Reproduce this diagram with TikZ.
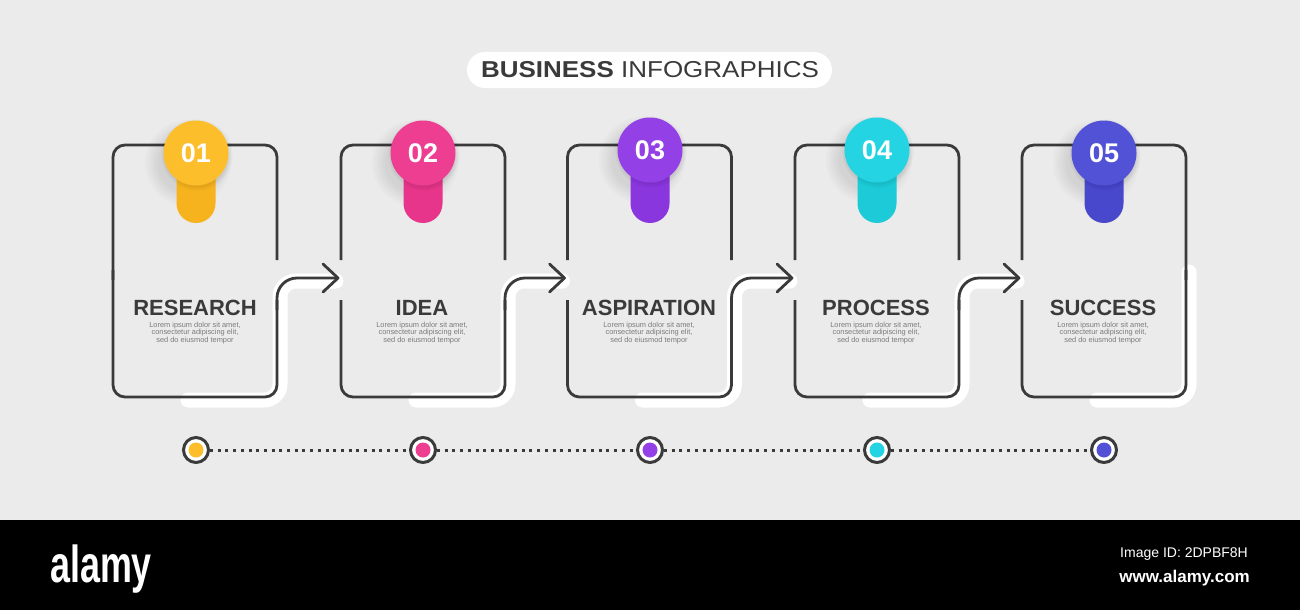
\documentclass[tikz,border=0pt]{standalone}
\usepackage{fontspec}
\setmainfont{Liberation Sans}
\definecolor{bg}{HTML}{EBEBEB}
\definecolor{ink}{HTML}{3A3A3A}
\definecolor{lorem}{HTML}{7A7A7A}
\definecolor{cA}{HTML}{FCBE2A}\definecolor{sA}{HTML}{F6B31E}
\definecolor{cB}{HTML}{EE3E92}\definecolor{sB}{HTML}{E6358A}
\definecolor{cC}{HTML}{9340E6}\definecolor{sC}{HTML}{8936DE}
\definecolor{cD}{HTML}{24D4E2}\definecolor{sD}{HTML}{1CCAD8}
\definecolor{cE}{HTML}{5252D6}\definecolor{sE}{HTML}{4848CC}
\begin{document}
\begin{tikzpicture}[x=1pt,y=-1pt,
  outline/.style={draw=ink, line width=2.8pt, rounded corners=12pt},
  bendline/.style={draw=ink, line width=2.8pt, rounded corners=20pt},
  chevron/.style={draw=ink, line width=2.8pt, line cap=round, line join=round},
  band/.style={draw=white, line width=15pt, line cap=round, line join=round, rounded corners=16pt},
  heading/.style={text=ink, font=\bfseries\fontsize{22}{24}\selectfont},
  loremtext/.style={text=lorem, align=center, font=\fontsize{7.4}{7.2}\selectfont},
  num/.style={text=white, font=\bfseries\fontsize{27}{28}\selectfont},
  ring/.style={circle, draw=ink, line width=3pt, fill=white, minimum size=25pt, inner sep=0pt},
  dots/.style={draw=ink, line width=3pt, dash pattern=on 3pt off 4.7pt},
]
\useasboundingbox (0,0) rectangle (1300,610);
\fill[bg] (0,0) rectangle (1300,520);
\fill[black] (0,520) rectangle (1300,610);

% title
\node[fill=white, rounded corners=18pt, minimum width=365pt, minimum height=36pt, inner sep=0pt] (titlepill) at (649.5,70) {};
\node[text=ink, font=\fontsize{23}{24}\selectfont, xscale=1.13] (title) at (650,70) {\textbf{BUSINESS} INFOGRAPHICS};

% white highlight bands
\foreach \L/\N [count=\i] in {113/341, 341/567.5, 567.5/795, 795/1022}{
  \pgfmathsetmacro\R{\L+164}
  \pgfmathsetmacro\T{\N-5}
  \draw[band] (\L+75,400) -- (\R+3,400) -- (\R+3,281) -- (\T,281);
}
\draw[band] (1189,272) -- (1189,400) -- (1097,400);

% box outlines
\foreach \L/\lt/\lb/\rt/\rb in {113/280/270/260/300, 341/260/300/260/300, 567.5/260/300/260/300, 795/260/300/260/300, 1022/260/300/280/270}{
  \pgfmathsetmacro\R{\L+164}
  \draw[outline] (\L,\lt) -- (\L,145) -- (\R,145) -- (\R,\rt);
  \draw[outline] (\L,\lb) -- (\L,397) -- (\R,397) -- (\R,\rb);
}

% connectors
\foreach \L/\N [count=\i] in {113/341, 341/567.5, 567.5/795, 795/1022}{
  \pgfmathsetmacro\R{\L+164}
  \pgfmathsetmacro\T{\N-3}
  \coordinate (s\i) at (\R,310);
  \coordinate (k\i) at (\R,278);
  \coordinate (tip\i) at (\T,278);
  \draw[bendline] (s\i) -- (k\i) -- (tip\i);
  \draw[chevron] (tip\i) ++(-15,-14) -- (tip\i) -- ++(-15,14);
}

% pins
\foreach \cx/\cy/\cc/\sc/\n in {196/153/cA/sA/01, 423/153/cB/sB/02, 650/150/cC/sC/03, 877/150/cD/sD/04, 1104/153/cE/sE/05}{
  \foreach \k in {1,...,6}{
    \fill[black, opacity=0.016] (\cx-8,\cy+10) circle (28+\k*2.5);
  }
  \fill[\sc, rounded corners=19.5pt] (\cx-19.5,\cy) rectangle (\cx+19.5,223);
  \foreach \k in {1,...,4}{
    \fill[black, opacity=0.02] (\cx+1,\cy+2) circle (31+\k*1.2);
  }
  \fill[\cc] (\cx,\cy) circle (32.5);
  \node[num] (pin\n) at (\cx,\cy) {\n};
}

% headings and text
\foreach \x/\t [count=\i] in {195/RESEARCH, 422/IDEA, 649/ASPIRATION, 876/PROCESS, 1103/SUCCESS}{
  \node[heading] (head\i) at (\x,307.5) {\t};
  \node[loremtext] (lorem\i) at (\x,333) {Lorem ipsum dolor sit amet,\\consectetur adipiscing elit,\\sed do eiusmod tempor};
}

% timeline
\foreach \x/\cc [count=\i] in {196/cA, 423/cB, 650/cC, 877/cD, 1104/cE}{
  \node[ring] (t\i) at (\x,450) {};
  \fill[\cc] (t\i.center) circle (7.5);
}
\draw[dots] (t1) -- (t2);
\draw[dots] (t2) -- (t3);
\draw[dots] (t3) -- (t4);
\draw[dots] (t4) -- (t5);

% footer bar
\node[text=white, font=\bfseries\fontsize{52}{52}\selectfont, xscale=0.69, anchor=base west, inner sep=0pt] (logo) at (50,582) {alamy};
\node[text=white, font=\fontsize{14}{14}\selectfont, anchor=base east, inner sep=0pt] (imgid) at (1248,557) {Image ID: 2DPBF8H};
\node[text=white, font=\bfseries\fontsize{17}{17}\selectfont, anchor=base east, inner sep=0pt] (site) at (1250,582) {www.alamy.com};
\end{tikzpicture}
\end{document}
